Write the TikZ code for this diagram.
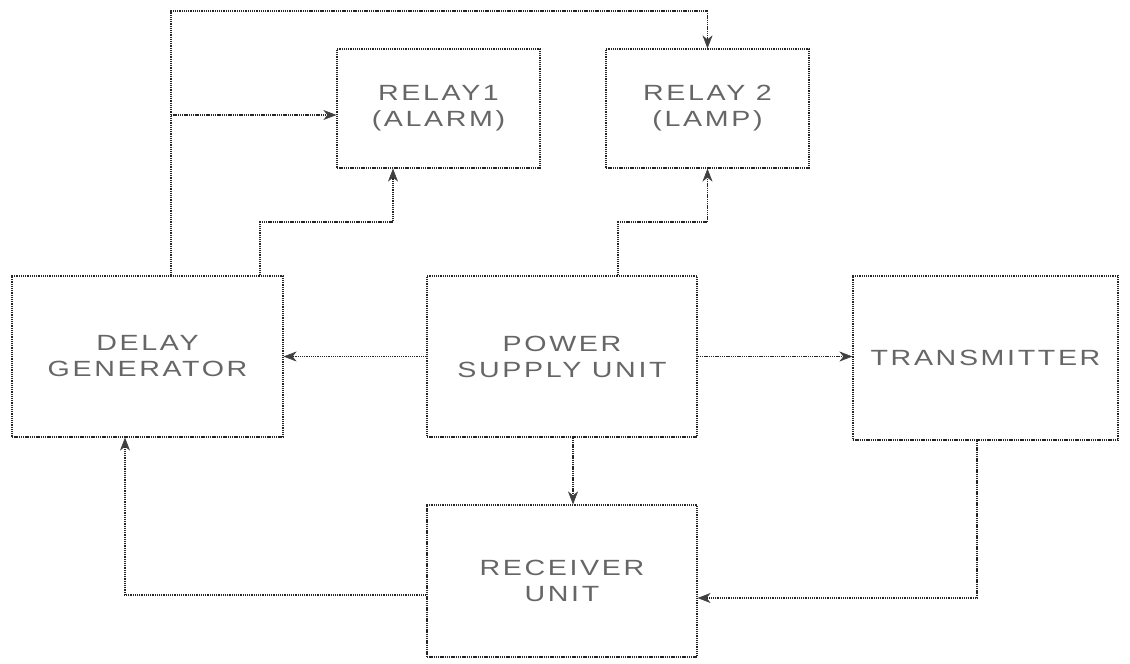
\documentclass[tikz,border=0pt]{standalone}
\usepackage{fontspec}
\newfontfamily\lblfont{Liberation Sans}[FakeStretch=1.3,LetterSpace=12]
\usetikzlibrary{arrows.meta}
\begin{document}
\begin{tikzpicture}[x=1pt,y=-1pt,
  dotline/.style={draw=black!85,line width=1.2pt,dash pattern=on 1.3pt off 0.9pt},
  blk/.style={dotline,rectangle,inner sep=0pt,align=center,text=black!60,
    font=\lblfont\fontsize{22}{26}\selectfont},
  arr/.style={dotline,-{Stealth[length=13pt,width=10pt,inset=4pt,line width=0.6pt,fill=black!75,color=black!75]}}]
\useasboundingbox (0,0) rectangle (1130,664);
\node[blk,minimum width=203pt,minimum height=119pt] (relay1) at (438.5,108.5) {RELAY1\\(ALARM)};
\node[blk,minimum width=203pt,minimum height=119pt] (relay2) at (707.5,108.5) {RELAY 2\\(LAMP)};
\node[blk,minimum width=271pt,minimum height=161pt] (delay) at (147.5,356.5) {DELAY\\GENERATOR};
\node[blk,minimum width=270pt,minimum height=161pt] (psu) at (562,356.5) {POWER\\SUPPLY UNIT};
\node[blk,minimum width=265pt,minimum height=164pt] (trans) at (985.5,358) {TRANSMITTER};
\node[blk,minimum width=270pt,minimum height=152pt] (recv) at (562,581) {RECEIVER\\UNIT};
% helper coordinates
\coordinate (t1) at (171,11);
\coordinate (b1) at (171,115);
\coordinate (e1) at (260,222);
\coordinate (r1x) at (393,222);
\coordinate (e2) at (618,222);
\coordinate (v1) at (573,0);
\coordinate (c1) at (125,595);
\coordinate (t2) at (977,598);
% connectors
\draw[arr] (delay.north -| t1) -- (t1) -| (relay2.north);
\draw[arr] (b1) -- (relay1.west |- b1);
\draw[arr] (delay.north -| e1) -- (e1) -- (r1x) -- (relay1.south -| r1x);
\draw[arr] (psu.north -| e2) -- (e2) -| (relay2.south);
\draw[arr] (psu.west) -- (delay.east);
\draw[arr] (psu.east) -- (psu.east -| trans.west);
\draw[arr] (psu.south -| v1) -- (recv.north -| v1);
\draw[arr] (recv.west |- c1) -- (c1) -- (delay.south -| c1);
\draw[arr] (trans.south -| t2) -- (t2) -- (recv.east |- t2);
\end{tikzpicture}
\end{document}
